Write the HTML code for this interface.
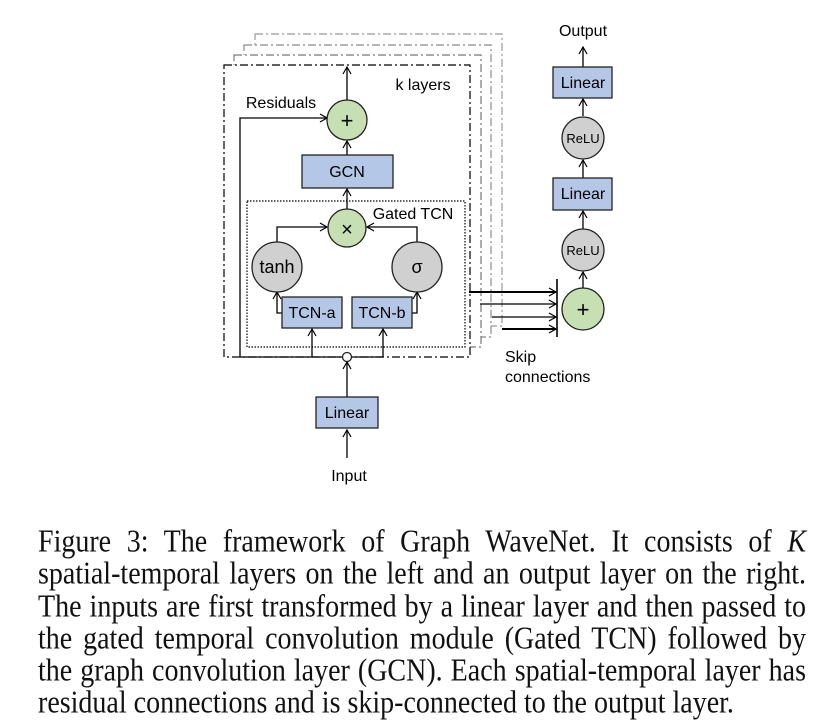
<!DOCTYPE html>
<html><head><meta charset="utf-8"><style>
body{margin:0;background:#fff;width:826px;height:713px;overflow:hidden;position:relative}
svg{position:absolute;left:0;top:0}
.cap{position:absolute;left:38px;width:768px;top:527px;font-family:"Liberation Serif",serif;font-size:28px;line-height:32.3px;color:#111}
.cap div{text-align:justify;text-align-last:justify;white-space:nowrap;height:32.3px;transform:scaleY(1.12);transform-origin:50% 55%}
</style></head><body>
<svg width="826" height="713" font-family="Liberation Sans, sans-serif">
<defs><marker id="a" markerWidth="10" markerHeight="10" refX="9" refY="5" orient="auto" markerUnits="userSpaceOnUse"><path d="M2,1 L9,5 L2,9" fill="none" stroke="#000" stroke-width="1.2"/></marker></defs>
<g fill="none" stroke-width="1.2">
<rect x="255" y="34" width="247" height="292" stroke="#999" stroke-dasharray="8,3,2,3"/>
<rect x="244" y="45" width="247" height="292" fill="#fff" stroke="#888" stroke-dasharray="8,3,2,3"/>
<rect x="234" y="55" width="247" height="292" fill="#fff" stroke="#777" stroke-dasharray="8,3,2,3"/>
<rect x="224" y="65" width="246" height="292" fill="#fff" stroke="#000" stroke-dasharray="8,3,2,3"/>
<rect x="247" y="201" width="218" height="146" stroke="#000" stroke-dasharray="1.5,1.5"/>
</g>
<g stroke="#000" stroke-width="1.3" fill="none">
<line x1="347" y1="100" x2="347" y2="67" marker-end="url(#a)"/>
<polyline points="240,357 240,118 327,118" marker-end="url(#a)"/>
<line x1="347" y1="155" x2="347" y2="141" marker-end="url(#a)"/>
<line x1="347" y1="209" x2="347" y2="189" marker-end="url(#a)"/>
<polyline points="277,242 277,227 327,227" marker-end="url(#a)"/>
<polyline points="417,242 417,227 367,227" marker-end="url(#a)"/>
<polyline points="282,313 277,313 277,292" marker-end="url(#a)"/>
<polyline points="412,313 417,313 417,292" marker-end="url(#a)"/>
<line x1="240" y1="357" x2="343" y2="357"/>
<line x1="351" y1="357" x2="383" y2="357"/>
<line x1="312" y1="357" x2="312" y2="329" marker-end="url(#a)"/>
<line x1="383" y1="357" x2="383" y2="329" marker-end="url(#a)"/>
<line x1="347" y1="397" x2="347" y2="362" marker-end="url(#a)"/>
<line x1="347" y1="458" x2="347" y2="430" marker-end="url(#a)"/>
<line x1="469" y1="292" x2="556" y2="292" stroke-width="2" marker-end="url(#a)"/>
<line x1="480" y1="304" x2="556" y2="304" marker-end="url(#a)"/>
<line x1="492" y1="317" x2="556" y2="317" marker-end="url(#a)"/>
<line x1="502" y1="329" x2="556" y2="329" stroke-width="2" marker-end="url(#a)"/>
<line x1="557" y1="279" x2="557" y2="337" stroke-width="1.6"/>
<line x1="583" y1="288" x2="583" y2="272" marker-end="url(#a)"/>
<line x1="583" y1="229" x2="583" y2="211" marker-end="url(#a)"/>
<line x1="583" y1="178" x2="583" y2="160" marker-end="url(#a)"/>
<line x1="583" y1="116" x2="583" y2="99" marker-end="url(#a)"/>
<line x1="583" y1="67" x2="583" y2="47" marker-end="url(#a)"/>
</g>
<g stroke="#222" stroke-width="1.3">
<circle cx="347" cy="120" r="20" fill="#c6e0b4"/>
<circle cx="347" cy="228" r="19" fill="#c6e0b4"/>
<circle cx="277" cy="267" r="25" fill="#d0d0d0"/>
<circle cx="417" cy="267" r="25" fill="#d0d0d0"/>
<circle cx="347" cy="357" r="4.5" fill="#fff"/>
<circle cx="583" cy="309" r="21" fill="#c6e0b4"/>
<circle cx="583" cy="250" r="21" fill="#d0d0d0"/>
<circle cx="583" cy="138" r="21" fill="#d0d0d0"/>
<rect x="302" y="155" width="91" height="33" fill="#b4c7e7"/>
<rect x="282" y="297" width="60" height="31" fill="#b4c7e7"/>
<rect x="352" y="297" width="60" height="31" fill="#b4c7e7"/>
<rect x="316" y="397" width="62" height="31" fill="#b4c7e7"/>
<rect x="553" y="67" width="59" height="31" fill="#b4c7e7"/>
<rect x="553" y="178" width="59" height="32" fill="#b4c7e7"/>
</g>
<g fill="#000" font-size="16" text-anchor="middle">
<text x="347" y="128" font-size="22">+</text>
<text x="347" y="236" font-size="20">×</text>
<text x="347" y="177">GCN</text>
<text x="277" y="273" font-size="18">tanh</text>
<text x="417" y="273" font-size="18">σ</text>
<text x="312" y="318">TCN-a</text>
<text x="382" y="318">TCN-b</text>
<text x="347" y="418">Linear</text>
<text x="349" y="481">Input</text>
<text x="583" y="317" font-size="22">+</text>
<text x="583" y="255" font-size="13">ReLU</text>
<text x="583" y="143" font-size="13">ReLU</text>
<text x="583" y="199">Linear</text>
<text x="583" y="88">Linear</text>
<text x="583" y="36">Output</text>
<text x="423" y="90">k layers</text>
<text x="281" y="108">Residuals</text>
<text x="413" y="219">Gated TCN</text>
<text x="505" y="362" text-anchor="start">Skip</text>
<text x="505" y="382" text-anchor="start">connections</text>
</g>
</svg>
<div class="cap">
<div>Figure 3: The framework of Graph WaveNet. It consists of <i>K</i></div>
<div>spatial-temporal layers on the left and an output layer on the right.</div>
<div>The inputs are first transformed by a linear layer and then passed to</div>
<div>the gated temporal convolution module (Gated TCN) followed by</div>
<div>the graph convolution layer (GCN). Each spatial-temporal layer has</div>
<div style="text-align-last:left">residual connections and is skip-connected to the output layer.</div>
</div>
</body></html>
